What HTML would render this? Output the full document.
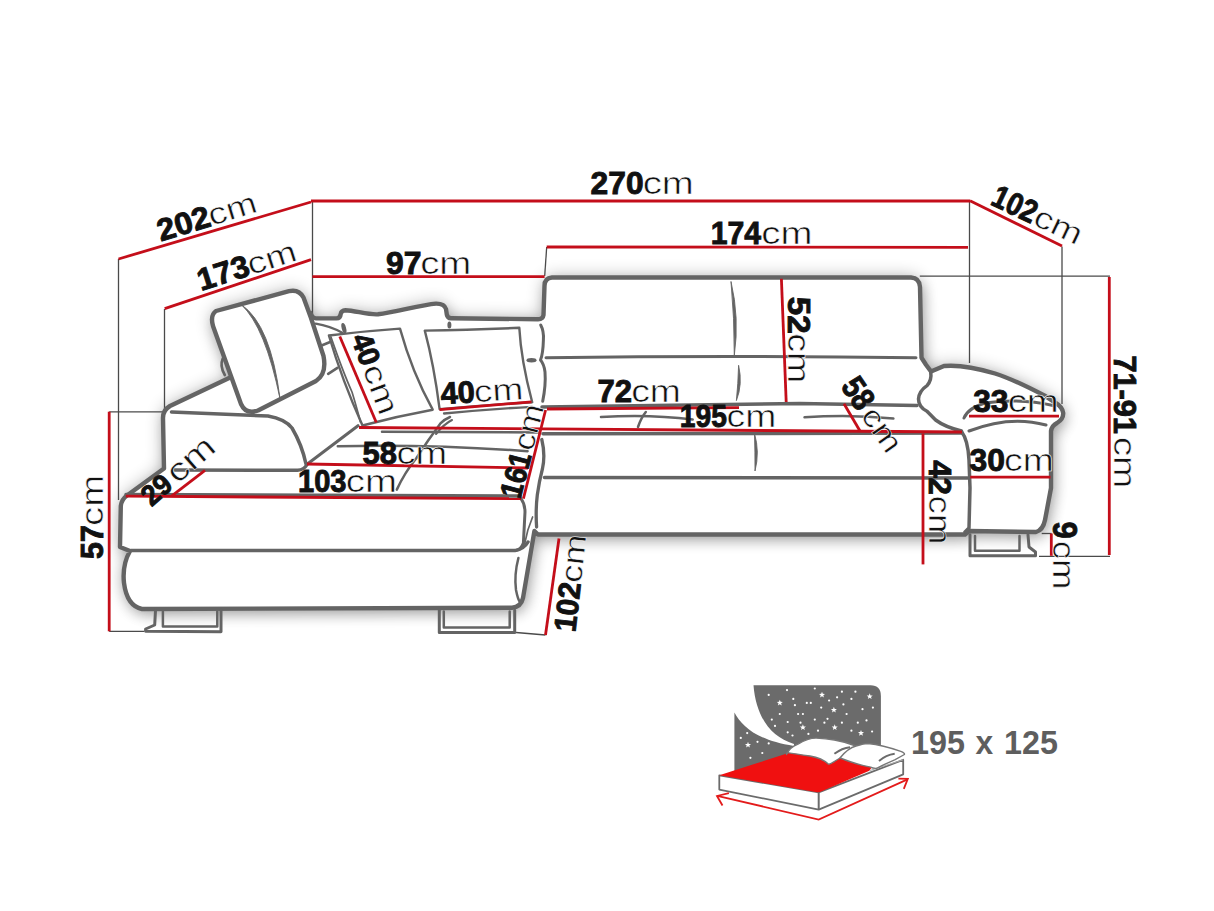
<!DOCTYPE html>
<html><head><meta charset="utf-8"><style>
html,body{margin:0;padding:0;background:#fff;}
svg{display:block;}
text{font-family:"Liberation Sans",sans-serif;fill:#111;}
.bt text{fill:#5e5e5e;}
.n{stroke:#111;stroke-width:0.9;}
.c{stroke:#fff;stroke-width:0.55;}
</style></head><body>
<svg width="1214" height="911" viewBox="0 0 1214 911">
<rect width="1214" height="911" fill="#fff"/>
<defs><filter id="sh" x="-20%" y="-20%" width="140%" height="140%"><feGaussianBlur stdDeviation="7"/></filter></defs>
<filter id="sh2" x="-20%" y="-20%" width="140%" height="140%"><feGaussianBlur stdDeviation="9"/></filter>
<g filter="url(#sh2)" opacity="0.32"><path d="M230.7,377.2 L170,406 Q163,410 163,418 L164,468.5 L127,495.5 Q121.5,499.5 120.8,506 L120,547 L130,551 Q122,565 124,583 Q127,606 142,609 L512,607.7 Q521,607 523,598 L534.4,531 L538,534.5 L965,534.5 L969,531 L1036,532 Q1043,530 1045,520 L1051,488 L1051,431 Q1052,425.5 1057,423 Q1063.5,419 1063.2,413 Q1062.5,407 1055,402.5 L1045.7,396.3 C1030,388 1012,379 995,373.5 C980,369 960,364.5 944,366 L931,371.5 L926,364.7 L921.5,357.8 L920,287 Q919.5,278 911,277.5 L552,277.5 Q544.5,278 544.5,286 L543.5,315 Q543,319 538,319.3 L451,318.2 Q447.5,318.2 446.8,314.5 L446,309 Q444.5,303.5 436,303.6 C420,305 395,312.5 378,314.3 C368,315 355,310.5 345.5,310.2 Q341.2,310.5 340.7,314 Q340.3,318.4 336.5,318.4 L316,318.4 Q312,318 310.6,313 Z" fill="#000"/><path d="M216,311 L289,291.2 Q299,289 303.5,297.5 L311,318 L323.5,356 Q327,374 316,381 L258,410.5 Q246,415 241,404 L213,326 Q210,315 216,311 Z" fill="#000"/></g>
<g filter="url(#sh)" opacity="0.22" transform="translate(3,6)"><path d="M230.7,377.2 L170,406 Q163,410 163,418 L164,468.5 L127,495.5 Q121.5,499.5 120.8,506 L120,547 L130,551 Q122,565 124,583 Q127,606 142,609 L512,607.7 Q521,607 523,598 L534.4,531 L538,534.5 L965,534.5 L969,531 L1036,532 Q1043,530 1045,520 L1051,488 L1051,431 Q1052,425.5 1057,423 Q1063.5,419 1063.2,413 Q1062.5,407 1055,402.5 L1045.7,396.3 C1030,388 1012,379 995,373.5 C980,369 960,364.5 944,366 L931,371.5 L926,364.7 L921.5,357.8 L920,287 Q919.5,278 911,277.5 L552,277.5 Q544.5,278 544.5,286 L543.5,315 Q543,319 538,319.3 L451,318.2 Q447.5,318.2 446.8,314.5 L446,309 Q444.5,303.5 436,303.6 C420,305 395,312.5 378,314.3 C368,315 355,310.5 345.5,310.2 Q341.2,310.5 340.7,314 Q340.3,318.4 336.5,318.4 L316,318.4 Q312,318 310.6,313 Z" fill="#000"/><path d="M216,311 L289,291.2 Q299,289 303.5,297.5 L311,318 L323.5,356 Q327,374 316,381 L258,410.5 Q246,415 241,404 L213,326 Q210,315 216,311 Z" fill="#000"/></g>
<path d="M230.7,377.2 L170,406 Q163,410 163,418 L164,468.5 L127,495.5 Q121.5,499.5 120.8,506 L120,547 L130,551 Q122,565 124,583 Q127,606 142,609 L512,607.7 Q521,607 523,598 L534.4,531 L538,534.5 L965,534.5 L969,531 L1036,532 Q1043,530 1045,520 L1051,488 L1051,431 Q1052,425.5 1057,423 Q1063.5,419 1063.2,413 Q1062.5,407 1055,402.5 L1045.7,396.3 C1030,388 1012,379 995,373.5 C980,369 960,364.5 944,366 L931,371.5 L926,364.7 L921.5,357.8 L920,287 Q919.5,278 911,277.5 L552,277.5 Q544.5,278 544.5,286 L543.5,315 Q543,319 538,319.3 L451,318.2 Q447.5,318.2 446.8,314.5 L446,309 Q444.5,303.5 436,303.6 C420,305 395,312.5 378,314.3 C368,315 355,310.5 345.5,310.2 Q341.2,310.5 340.7,314 Q340.3,318.4 336.5,318.4 L316,318.4 Q312,318 310.6,313 Z" fill="#fff"/><path d="M216,311 L289,291.2 Q299,289 303.5,297.5 L311,318 L323.5,356 Q327,374 316,381 L258,410.5 Q246,415 241,404 L213,326 Q210,315 216,311 Z" fill="#fff"/>
<line x1="118.5" y1="259" x2="118.5" y2="500" stroke="#4a4a4a" stroke-width="1.3"/>
<line x1="164.5" y1="309" x2="164.5" y2="412" stroke="#4a4a4a" stroke-width="1.3"/>
<line x1="109.2" y1="411.8" x2="164" y2="411.8" stroke="#4a4a4a" stroke-width="1.3"/>
<line x1="312.5" y1="201.7" x2="312.5" y2="318" stroke="#4a4a4a" stroke-width="1.3"/>
<line x1="546.7" y1="247" x2="544.7" y2="276" stroke="#4a4a4a" stroke-width="1.3"/>
<line x1="969.5" y1="202" x2="969.5" y2="363" stroke="#4a4a4a" stroke-width="1.3"/>
<line x1="1062" y1="246.5" x2="1062" y2="404" stroke="#4a4a4a" stroke-width="1.3"/>
<line x1="919.8" y1="276.2" x2="1110" y2="276.2" stroke="#4a4a4a" stroke-width="1.3"/>
<line x1="109.2" y1="631.3" x2="144.4" y2="631.3" stroke="#4a4a4a" stroke-width="1.3"/>
<line x1="516" y1="632.5" x2="545.5" y2="635" stroke="#4a4a4a" stroke-width="1.3"/>
<line x1="1041.7" y1="533.5" x2="1051.6" y2="533.5" stroke="#4a4a4a" stroke-width="1.3"/>
<line x1="1039" y1="556.3" x2="1110" y2="556.3" stroke="#4a4a4a" stroke-width="1.3"/>
<path d="M216,311 L289,291.2 Q299,289 303.5,297.5 L311,318 L323.5,356 Q327,374 316,381 L258,410.5 Q246,415 241,404 L213,326 Q210,315 216,311 Z" fill="none" stroke="#646464" stroke-width="4.4" stroke-linecap="round" stroke-linejoin="round" />
<path d="M241.4,304.7 Q265.23,327.14 280,398.6 Q270.77,324.86 241.4,304.7 Z" fill="#646464" stroke="#646464" stroke-width="0.9" stroke-linejoin="round"/>
<path d="M230.7,377.2 L170,406 Q163,410 163,418 L164,468.5 L127,495.5 Q121.5,499.5 120.8,506 L120,547 L130,551 Q122,565 124,583 Q127,606 142,609 L512,607.7 Q521,607 523,598 L534.4,531 L538,534.5 L965,534.5 L969,531 L1036,532 Q1043,530 1045,520 L1051,488 L1051,431 Q1052,425.5 1057,423 Q1063.5,419 1063.2,413 Q1062.5,407 1055,402.5 L1045.7,396.3 C1030,388 1012,379 995,373.5 C980,369 960,364.5 944,366 L931,371.5 L926,364.7 L921.5,357.8 L920,287 Q919.5,278 911,277.5 L552,277.5 Q544.5,278 544.5,286 L543.5,315 Q543,319 538,319.3 L451,318.2 Q447.5,318.2 446.8,314.5 L446,309 Q444.5,303.5 436,303.6 C420,305 395,312.5 378,314.3 C368,315 355,310.5 345.5,310.2 Q341.2,310.5 340.7,314 Q340.3,318.4 336.5,318.4 L316,318.4 Q312,318 310.6,313" fill="none" stroke="#646464" stroke-width="4.4" stroke-linecap="round" stroke-linejoin="round" />
<path d="M171.5,412 L268,416 Q285,419 292,428 Q302,445 306,464" fill="none" stroke="#646464" stroke-width="3.5" stroke-linecap="round" stroke-linejoin="round" />
<path d="M174,470 L297.6,470.3 Q304,470 307.4,464" fill="none" stroke="#646464" stroke-width="3.5" stroke-linecap="round" stroke-linejoin="round" />
<path d="M307.4,464 L358,425.7" fill="none" stroke="#646464" stroke-width="3.0" stroke-linecap="round" stroke-linejoin="round" />
<path d="M126,494.5 L520,496" fill="none" stroke="#646464" stroke-width="3.5" stroke-linecap="round" stroke-linejoin="round" />
<path d="M131,550.6 L515,550.6 Q524,549 528,542" fill="none" stroke="#646464" stroke-width="3.5" stroke-linecap="round" stroke-linejoin="round" />
<path d="M521,498.7 Q525,504 525,512 L523.4,543 Q521,550 515,550.6" fill="none" stroke="#646464" stroke-width="3.0" stroke-linecap="round" stroke-linejoin="round" />
<path d="M518.4,558 Q514,575 516,590 Q518,600 520,602" fill="none" stroke="#646464" stroke-width="2.5" stroke-linecap="round" stroke-linejoin="round" />
<path d="M540.7,325 Q544,331 543.4,340 Q543,354 540.5,360 Q544,364 545,372 Q546,385 542.7,401.3" fill="none" stroke="#646464" stroke-width="3.0" stroke-linecap="round" stroke-linejoin="round" />
<path d="M541.8,439.5 Q545.5,455 542.5,468.5 Q539,482 537.3,495 Q535.5,510 536.6,527" fill="none" stroke="#646464" stroke-width="3.3" stroke-linecap="round" stroke-linejoin="round" />
<path d="M532.6,517 Q527,530 524.7,543.6" fill="none" stroke="#646464" stroke-width="1.7" stroke-linecap="round" stroke-linejoin="round" />
<path d="M542,407 L800,403.4 L917,405.5" fill="none" stroke="#646464" stroke-width="3.5" stroke-linecap="round" stroke-linejoin="round" />
<path d="M930.7,372 Q932,380 927,385.6 Q919,391 918.5,399 Q918.5,407 927,411.3 L935.6,420 Q945,427 961.5,431" fill="none" stroke="#646464" stroke-width="3.5" stroke-linecap="round" stroke-linejoin="round" />
<path d="M543,433.8 L962,433" fill="none" stroke="#646464" stroke-width="3.5" stroke-linecap="round" stroke-linejoin="round" />
<path d="M544.5,477.6 L967.6,478" fill="none" stroke="#646464" stroke-width="3.5" stroke-linecap="round" stroke-linejoin="round" />
<path d="M961.5,431.5 Q968,440 969,460 L970,488 L969,528 L965,532" fill="none" stroke="#646464" stroke-width="3.5" stroke-linecap="round" stroke-linejoin="round" />
<path d="M964,418 Q968,408 985,403 Q1020,398 1053,405.5" fill="none" stroke="#646464" stroke-width="3.0" stroke-linecap="round" stroke-linejoin="round" />
<path d="M969,431 Q1010,415 1046,425" fill="none" stroke="#646464" stroke-width="3.0" stroke-linecap="round" stroke-linejoin="round" />
<path d="M546,357.8 Q730,355 916,357.8" fill="none" stroke="#646464" stroke-width="3.0" stroke-linecap="round" stroke-linejoin="round" />
<path d="M731,281.5 Q734.40,318.12 734.3,355.6 Q739.60,317.88 731,281.5 Z" fill="#646464" stroke="#646464" stroke-width="0.9" stroke-linejoin="round"/>
<path d="M738.6,365.3 Q738.10,383.85 736.4,400.6 Q742.90,384.15 738.6,365.3 Z" fill="#646464" stroke="#646464" stroke-width="0.9" stroke-linejoin="round"/>
<path d="M754.5,433.5 Q755.10,452.03 755,471 Q759.90,451.97 754.5,433.5 Z" fill="#646464" stroke="#646464" stroke-width="0.9" stroke-linejoin="round"/>
<path d="M601,417 Q650,414 692.7,419.5" fill="none" stroke="#646464" stroke-width="2.5" stroke-linecap="round" stroke-linejoin="round" />
<path d="M638,427 Q641,418 645.8,412" fill="none" stroke="#646464" stroke-width="2.5" stroke-linecap="round" stroke-linejoin="round" />
<path d="M804.5,417.3 Q850,414 893.4,418.5" fill="none" stroke="#646464" stroke-width="2.5" stroke-linecap="round" stroke-linejoin="round" />
<path d="M328.9,335.5 Q365,331 400,328.6 Q412,372 432.7,409.7 Q398,416 362.5,425.5 Q342,380 328.9,335.5 Z" fill="none" stroke="#646464" stroke-width="2.4" stroke-linecap="round" stroke-linejoin="round" />
<path d="M424.8,330.6 Q470,330 519.3,327.8 Q521,360 532.2,402.2 Q485,405 439.6,409.2 Q434,365 424.8,330.6 Z" fill="none" stroke="#646464" stroke-width="2.4" stroke-linecap="round" stroke-linejoin="round" />
<ellipse cx="343.9" cy="328.2" rx="2.2" ry="5.3" fill="#646464" transform="rotate(-15 343.9 328.2)"/>
<ellipse cx="449.4" cy="325" rx="2" ry="3.6" fill="#646464"/>
<ellipse cx="531.5" cy="360.2" rx="5" ry="2.2" fill="#646464"/>
<path d="M315.7,323.7 Q330,326 342.7,333" fill="none" stroke="#646464" stroke-width="2.3" stroke-linecap="round" stroke-linejoin="round" />
<path d="M321.6,345.4 L329.5,342.2" fill="none" stroke="#646464" stroke-width="2.7" stroke-linecap="round" stroke-linejoin="round" />
<path d="M328.2,373.8 L337.4,367.8" fill="none" stroke="#646464" stroke-width="2.7" stroke-linecap="round" stroke-linejoin="round" />
<path d="M222.8,358.5 Q219.5,366 224.8,375" fill="none" stroke="#646464" stroke-width="2.7" stroke-linecap="round" stroke-linejoin="round" />
<path d="M330.9,336.9 Q343,372 352,392 Q356,405 360.5,422" fill="none" stroke="#646464" stroke-width="1.7" stroke-linecap="round" stroke-linejoin="round" />
<path d="M337.8,446.2 Q430,444 527.6,451.2" fill="none" stroke="#646464" stroke-width="2.5" stroke-linecap="round" stroke-linejoin="round" />
<path d="M382,431.7 L540,432.5" fill="none" stroke="#646464" stroke-width="2.5" stroke-linecap="round" stroke-linejoin="round" />
<path d="M444,413.5 Q490,409 532,406.8" fill="none" stroke="#646464" stroke-width="2.3" stroke-linecap="round" stroke-linejoin="round" />
<path d="M396.8,489.6 Q405,472 416.5,458 Q428,440 440.2,423.7 Q445,419 450,417" fill="none" stroke="#646464" stroke-width="2.5" stroke-linecap="round" stroke-linejoin="round" />
<path d="M436,434 Q444,424 452,420" fill="none" stroke="#646464" stroke-width="2.1" stroke-linecap="round" stroke-linejoin="round" />
<path d="M155.5,610.3 L154.7,625 L145.6,629 L145.6,631.3 L221,631.8 L221,610" fill="none" stroke="#646464" stroke-width="3.0" stroke-linecap="round" stroke-linejoin="round" />
<path d="M162.9,611.6 L162.9,626.4 L217.3,626.4 L217.3,611.6" fill="none" stroke="#646464" stroke-width="2.5" stroke-linecap="round" stroke-linejoin="round" />
<path d="M439.3,610.2 L439.3,632.5 L514.7,632.5 L514.7,610.2" fill="none" stroke="#646464" stroke-width="3.0" stroke-linecap="round" stroke-linejoin="round" />
<path d="M443.8,611.4 L443.8,627.5 L509.7,627.5 L509.7,611.4" fill="none" stroke="#646464" stroke-width="2.5" stroke-linecap="round" stroke-linejoin="round" />
<path d="M970,534.8 L970,555.8 L1035.5,555.8 L1035.5,552 L1029,547 L1028,534.8" fill="none" stroke="#646464" stroke-width="3.0" stroke-linecap="round" stroke-linejoin="round" />
<path d="M975,536 L975,550.8 L1019.5,550.8 L1019.5,536" fill="none" stroke="#646464" stroke-width="2.5" stroke-linecap="round" stroke-linejoin="round" />
<line x1="118.5" y1="259" x2="311" y2="202" stroke="#c40e1a" stroke-width="2.8"/>
<line x1="311" y1="201" x2="970" y2="201" stroke="#c40e1a" stroke-width="2.8"/>
<line x1="970" y1="200.8" x2="1062" y2="246" stroke="#c40e1a" stroke-width="2.8"/>
<line x1="164.7" y1="308.6" x2="311" y2="259.6" stroke="#c40e1a" stroke-width="2.8"/>
<line x1="312.4" y1="276.6" x2="544.6" y2="276.6" stroke="#c40e1a" stroke-width="2.8"/>
<line x1="546.7" y1="247" x2="968" y2="247.3" stroke="#c40e1a" stroke-width="2.8"/>
<line x1="781.4" y1="278.7" x2="786.2" y2="402" stroke="#c40e1a" stroke-width="2.8"/>
<line x1="1109.3" y1="277" x2="1109.3" y2="555" stroke="#c40e1a" stroke-width="2.8"/>
<line x1="109.2" y1="411.7" x2="109.2" y2="631.3" stroke="#c40e1a" stroke-width="2.8"/>
<line x1="171.5" y1="496.2" x2="205" y2="470.3" stroke="#c40e1a" stroke-width="2.8"/>
<line x1="125.8" y1="496.2" x2="521" y2="498.7" stroke="#c40e1a" stroke-width="2.8"/>
<line x1="307" y1="464" x2="528" y2="468" stroke="#c40e1a" stroke-width="2.8"/>
<line x1="359" y1="427.5" x2="962" y2="432" stroke="#c40e1a" stroke-width="2.8"/>
<line x1="545.6" y1="410" x2="523.4" y2="498.7" stroke="#c40e1a" stroke-width="2.8"/>
<line x1="547" y1="409" x2="739" y2="407.6" stroke="#c40e1a" stroke-width="2.8"/>
<line x1="339.8" y1="336.5" x2="376.3" y2="422.5" stroke="#c40e1a" stroke-width="2.8"/>
<line x1="439.6" y1="409.7" x2="531.5" y2="401.8" stroke="#c40e1a" stroke-width="2.8"/>
<line x1="844" y1="403.7" x2="860" y2="431" stroke="#c40e1a" stroke-width="2.8"/>
<line x1="923" y1="433.4" x2="923" y2="564.4" stroke="#c40e1a" stroke-width="2.8"/>
<line x1="969" y1="416.2" x2="1059" y2="416.2" stroke="#c40e1a" stroke-width="2.8"/>
<line x1="970.2" y1="477.2" x2="1050.5" y2="477.2" stroke="#c40e1a" stroke-width="2.8"/>
<line x1="1051.3" y1="533.5" x2="1051.3" y2="555.8" stroke="#c40e1a" stroke-width="2.8"/>
<line x1="559" y1="538.5" x2="545.5" y2="635" stroke="#c40e1a" stroke-width="2.8"/>
<g transform="translate(591.7,194.3) rotate(0)"><text class="n" transform="translate(-1.10,0) scale(1.0248,1)" x="0" y="0" font-weight="bold" font-size="31">270</text><text class="c" transform="translate(50.97,0) scale(1.2583,1)" x="0" y="0" font-size="30.5">cm</text></g>
<g transform="translate(712.7,244) rotate(0)"><text class="n" transform="translate(-1.90,0) scale(0.9737,1)" x="0" y="0" font-weight="bold" font-size="31">174</text><text class="c" transform="translate(48.67,0) scale(1.2583,1)" x="0" y="0" font-size="30.5">cm</text></g>
<g transform="translate(387.2,274.3) rotate(0)"><text class="n" transform="translate(-1.11,0) scale(1.0298,1)" x="0" y="0" font-weight="bold" font-size="31">97</text><text class="c" transform="translate(32.97,0) scale(1.2583,1)" x="0" y="0" font-size="30.5">cm</text></g>
<g transform="translate(441.6,404.2) rotate(-3.5)"><text class="n" transform="translate(-0.47,0) scale(0.9957,1)" x="0" y="0" font-weight="bold" font-size="31">40</text><text class="c" transform="translate(33.03,0) scale(1.2155,1)" x="0" y="0" font-size="30.5">cm</text></g>
<g transform="translate(598.8,402) rotate(0)"><text class="n" transform="translate(-1.34,0) scale(1.0029,1)" x="0" y="0" font-weight="bold" font-size="31">72</text><text class="c" transform="translate(32.41,0) scale(1.2235,1)" x="0" y="0" font-size="30.5">cm</text></g>
<g transform="translate(681.6,426.9) rotate(0)"><text class="n" transform="translate(-1.78,0) scale(0.9099,1)" x="0" y="0" font-weight="bold" font-size="31">195</text><text class="c" transform="translate(44.91,0) scale(1.2235,1)" x="0" y="0" font-size="30.5">cm</text></g>
<g transform="translate(363.5,464.3) rotate(0)"><text class="n" transform="translate(-0.95,0) scale(1.0008,1)" x="0" y="0" font-weight="bold" font-size="31">58</text><text class="c" transform="translate(32.99,0) scale(1.2450,1)" x="0" y="0" font-size="30.5">cm</text></g>
<g transform="translate(299.8,491.5) rotate(0)"><text class="n" transform="translate(-1.83,0) scale(0.9394,1)" x="0" y="0" font-weight="bold" font-size="31">103</text><text class="c" transform="translate(46.07,0) scale(1.2583,1)" x="0" y="0" font-size="30.5">cm</text></g>
<g transform="translate(973.9,411.7) rotate(0)"><text class="n" transform="translate(-0.73,0) scale(1.0230,1)" x="0" y="0" font-weight="bold" font-size="31">33</text><text class="c" transform="translate(33.77,0) scale(1.2583,1)" x="0" y="0" font-size="30.5">cm</text></g>
<g transform="translate(970.2,471) rotate(0)"><text class="n" transform="translate(-0.73,0) scale(1.0277,1)" x="0" y="0" font-weight="bold" font-size="31">30</text><text class="c" transform="translate(33.81,0) scale(1.2235,1)" x="0" y="0" font-size="30.5">cm</text></g>
<g transform="translate(161.8,241.2) rotate(-17)"><text class="n" transform="translate(-1.12,0) scale(1.0444,1)" x="0" y="0" font-weight="bold" font-size="31">202</text><text class="c" transform="translate(52.02,0) scale(1.2182,1)" x="0" y="0" font-size="30.5">cm</text></g>
<g transform="translate(202.8,290.3) rotate(-17.5)"><text class="n" transform="translate(-2.01,0) scale(1.0278,1)" x="0" y="0" font-weight="bold" font-size="31">173</text><text class="c" transform="translate(50.40,0) scale(1.2316,1)" x="0" y="0" font-size="30.5">cm</text></g>
<g transform="translate(103.4,558) rotate(-90)"><text class="n" transform="translate(-0.94,0) scale(0.9824,1)" x="0" y="0" font-weight="bold" font-size="31">57</text><text class="c" transform="translate(31.97,0) scale(1.2583,1)" x="0" y="0" font-size="30.5">cm</text></g>
<g transform="translate(152.2,506.6) rotate(-41)"><text class="n" transform="translate(-0.95,0) scale(0.9445,1)" x="0" y="0" font-weight="bold" font-size="29">29</text><text class="c" transform="translate(33.30,0) scale(1.2504,1)" x="0" y="0" font-size="32">cm</text></g>
<g transform="translate(788,297.8) rotate(90)"><text class="n" transform="translate(-1.02,0) scale(1.0717,1)" x="0" y="0" font-weight="bold" font-size="31">52</text><text class="c" transform="translate(35.50,0) scale(1.2316,1)" x="0" y="0" font-size="30.5">cm</text></g>
<g transform="translate(990.8,204.8) rotate(25.3)"><text class="n" transform="translate(-1.75,0) scale(0.8704,1)" x="0" y="0" font-weight="bold" font-size="32">102</text><text class="c" transform="translate(45.01,0) scale(1.2289,1)" x="0" y="0" font-size="30.5">cm</text></g>
<g transform="translate(840.6,387.2) rotate(55.5)"><text class="n" transform="translate(-0.88,0) scale(0.8652,1)" x="0" y="0" font-weight="bold" font-size="33">58</text><text class="c" transform="translate(34.47,0) scale(1.1780,1)" x="0" y="0" font-size="30.5">cm</text></g>
<g transform="translate(350.8,338.3) rotate(69.5)"><text class="n" transform="translate(-0.43,0) scale(0.9531,1)" x="0" y="0" font-weight="bold" font-size="30">40</text><text class="c" transform="translate(32.57,0) scale(1.2583,1)" x="0" y="0" font-size="30.5">cm</text></g>
<g transform="translate(1114.2,356.7) rotate(90)"><text class="n" transform="translate(-1.32,0) scale(0.9910,1)" x="0" y="0" font-weight="bold" font-size="31">71-91</text><text class="c" transform="translate(79.95,0) scale(1.2717,1)" x="0" y="0" font-size="30.5">cm</text></g>
<g transform="translate(928.9,460.7) rotate(90)"><text class="n" transform="translate(-0.47,0) scale(1.0070,1)" x="0" y="0" font-weight="bold" font-size="31">42</text><text class="c" transform="translate(34.84,0) scale(1.2048,1)" x="0" y="0" font-size="30.5">cm</text></g>
<g transform="translate(1053.3,522.5) rotate(90)"><text class="n" transform="translate(-1.07,0) scale(0.8602,1)" x="0" y="0" font-weight="bold" font-size="36">9</text><text class="c" transform="translate(18.14,0) scale(1.1854,1)" x="0" y="0" font-size="31">cm</text></g>
<g transform="translate(575.5,631) rotate(-83.5)"><text class="n" transform="translate(-1.88,0) scale(0.9603,1)" x="0" y="0" font-weight="bold" font-size="31">102</text><text class="c" transform="translate(47.55,0) scale(1.1941,1)" x="0" y="0" font-size="30.5">cm</text></g>
<g transform="translate(520.8,498.1) rotate(-75.6)"><text class="n" transform="translate(-1.73,0) scale(0.8874,1)" x="0" y="0" font-weight="bold" font-size="31">161</text><text class="c" transform="translate(47.40,0) scale(1.1539,1)" x="0" y="0" font-size="30.5">cm</text></g>
<path d="M753.5,685.3 L870.5,685.3 Q880.9,685.3 880.9,696 L880.9,748 L794,748 L794,744 C770,737 756,716 753.5,685.3 Z" fill="#6b6b6b"/>
<path d="M734.4,712.4 C742,726 756,740 794,746 L800,760 L734.4,772 Z" fill="#6b6b6b"/>
<polygon points="822.0,691.7 822.8,693.8 825.0,693.9 823.3,695.3 823.9,697.5 822.0,696.2 820.1,697.5 820.7,695.3 819.0,693.9 821.2,693.8" fill="#fff"/>
<polygon points="779.8,699.7 780.6,701.8 782.8,701.9 781.1,703.3 781.7,705.5 779.8,704.2 777.9,705.5 778.5,703.3 776.8,701.9 779.0,701.8" fill="#fff"/>
<polygon points="869.7,693.3 870.5,695.4 872.7,695.5 871.0,696.9 871.6,699.1 869.7,697.8 867.8,699.1 868.4,696.9 866.7,695.5 868.9,695.4" fill="#fff"/>
<polygon points="833.9,706.8 834.7,708.9 836.9,709.0 835.2,710.4 835.8,712.6 833.9,711.3 832.0,712.6 832.6,710.4 830.9,709.0 833.1,708.9" fill="#fff"/>
<polygon points="802.9,724.3 803.7,726.4 805.9,726.5 804.2,727.9 804.8,730.1 802.9,728.8 801.0,730.1 801.6,727.9 799.9,726.5 802.1,726.4" fill="#fff"/>
<polygon points="834.7,724.3 835.5,726.4 837.7,726.5 836.0,727.9 836.6,730.1 834.7,728.8 832.8,730.1 833.4,727.9 831.7,726.5 833.9,726.4" fill="#fff"/>
<polygon points="861.0,729.9 861.8,732.0 864.0,732.1 862.3,733.5 862.9,735.7 861.0,734.4 859.1,735.7 859.7,733.5 858.0,732.1 860.2,732.0" fill="#fff"/>
<polygon points="748.0,741.8 748.8,743.9 751.0,744.0 749.3,745.4 749.9,747.6 748.0,746.3 746.1,747.6 746.7,745.4 745.0,744.0 747.2,743.9" fill="#fff"/>
<circle cx="768.7" cy="694.9" r="1.1" fill="#fff"/>
<circle cx="787.0" cy="690.1" r="1.1" fill="#fff"/>
<circle cx="793.3" cy="698.9" r="1.1" fill="#fff"/>
<circle cx="794.9" cy="705.2" r="1.1" fill="#fff"/>
<circle cx="810.8" cy="702.9" r="1.1" fill="#fff"/>
<circle cx="821.2" cy="707.6" r="1.1" fill="#fff"/>
<circle cx="779.8" cy="714.0" r="1.1" fill="#fff"/>
<circle cx="798.1" cy="714.0" r="1.1" fill="#fff"/>
<circle cx="802.9" cy="714.0" r="1.1" fill="#fff"/>
<circle cx="814.8" cy="719.6" r="1.1" fill="#fff"/>
<circle cx="827.5" cy="718.8" r="1.1" fill="#fff"/>
<circle cx="787.7" cy="722.0" r="1.1" fill="#fff"/>
<circle cx="775.0" cy="725.9" r="1.1" fill="#fff"/>
<circle cx="771.8" cy="719.6" r="1.1" fill="#fff"/>
<circle cx="818.0" cy="730.7" r="1.1" fill="#fff"/>
<circle cx="851.4" cy="730.7" r="1.1" fill="#fff"/>
<circle cx="846.6" cy="714.0" r="1.1" fill="#fff"/>
<circle cx="862.5" cy="709.2" r="1.1" fill="#fff"/>
<circle cx="866.5" cy="720.4" r="1.1" fill="#fff"/>
<circle cx="855.4" cy="691.7" r="1.1" fill="#fff"/>
<circle cx="837.1" cy="697.3" r="1.1" fill="#fff"/>
<circle cx="851.4" cy="698.9" r="1.1" fill="#fff"/>
<circle cx="872.9" cy="707.6" r="1.1" fill="#fff"/>
<circle cx="841.9" cy="691.7" r="1.1" fill="#fff"/>
<circle cx="740.8" cy="737.9" r="1.1" fill="#fff"/>
<circle cx="747.2" cy="733.1" r="1.1" fill="#fff"/>
<circle cx="768.7" cy="743.4" r="1.1" fill="#fff"/>
<circle cx="762.3" cy="753.0" r="1.1" fill="#fff"/>
<circle cx="750.4" cy="757.8" r="1.1" fill="#fff"/>
<circle cx="757.5" cy="741.8" r="1.1" fill="#fff"/>
<circle cx="792.5" cy="735.5" r="1.1" fill="#fff"/>
<circle cx="808.4" cy="733.9" r="1.1" fill="#fff"/>
<circle cx="872.1" cy="731.5" r="1.1" fill="#fff"/>
<circle cx="806.8" cy="702.9" r="1.1" fill="#fff"/>
<circle cx="814.8" cy="688.5" r="1.1" fill="#fff"/>
<circle cx="829.1" cy="700.5" r="1.1" fill="#fff"/>
<circle cx="843.4" cy="704.4" r="1.1" fill="#fff"/>
<circle cx="857.8" cy="722.7" r="1.1" fill="#fff"/>
<circle cx="841.9" cy="722.7" r="1.1" fill="#fff"/>
<circle cx="824.4" cy="722.7" r="1.1" fill="#fff"/>
<circle cx="787.7" cy="732.3" r="1.1" fill="#fff"/>
<circle cx="800.5" cy="722.7" r="1.1" fill="#fff"/>
<polygon points="719.3,775.3 818.7,792.4 903.2,759.8 903.2,774.3 818.7,809.6 719.3,789.6" fill="#fff" stroke="#6b6b6b" stroke-width="1.8" stroke-linejoin="round"/>
<polygon points="719.3,775.3 790,752.5 880,756 869.4,770.7 818.7,792.4" fill="#f01010"/>
<line x1="818.7" y1="792.4" x2="818.7" y2="809.6" stroke="#6b6b6b" stroke-width="2"/>
<polyline points="869.4,770.7 903.2,759.8" fill="none" stroke="#aaa" stroke-width="1"/>
<path d="M786.5,754.5 Q790,747 798,744.1 Q808,738 816.2,738.1 Q826,738.5 834.4,740 Q846,742 856,746 L850,752 Q840,758 833,762.3 Q830,764.5 828.3,764.1 Q822,758 810,756 Q796,754 787.2,752.6 Z" fill="#fff" stroke="#777" stroke-width="1.4" stroke-linejoin="round"/>
<path d="M840,758 Q848,748 856,746 Q864,743.5 868,743.5 Q882.7,745 900.8,751.4 Q905,753 904.4,754.5 Q898,758 894.7,759.8 Q885,764 876.6,768.3 Q873,768.5 870.6,767.1 Q858,765 840,758 Z" fill="#fff" stroke="#777" stroke-width="1.4" stroke-linejoin="round"/>
<path d="M834.4,753.8 Q842,748 850,747.2" fill="none" stroke="#6b6b6b" stroke-width="2"/>
<path d="M879,761 Q886,755 894.7,753.8" fill="none" stroke="#6b6b6b" stroke-width="2"/>
<polyline points="717.2,795.8 818.7,819.6 907.5,779.4" fill="none" stroke="#e31b1b" stroke-width="1.8"/>
<polyline points="728.9,793.1 717,796 722.5,805.5" fill="none" stroke="#e31b1b" stroke-width="1.8"/>
<polyline points="898.4,778.6 907.8,778.8 903.8,788.8" fill="none" stroke="#e31b1b" stroke-width="1.8"/><g class="bt" font-weight="bold" font-size="33"><g transform="translate(0,754.3)"><text transform="translate(910.96,0) scale(0.9796,1)" x="0" y="0" font-weight="bold" font-size="33">195</text><text transform="translate(975.38,0) scale(0.9617,1)" x="0" y="0" font-weight="bold" font-size="33">x</text><text transform="translate(1003.96,0) scale(0.9796,1)" x="0" y="0" font-weight="bold" font-size="33">125</text></g></g>
</svg></body></html>
